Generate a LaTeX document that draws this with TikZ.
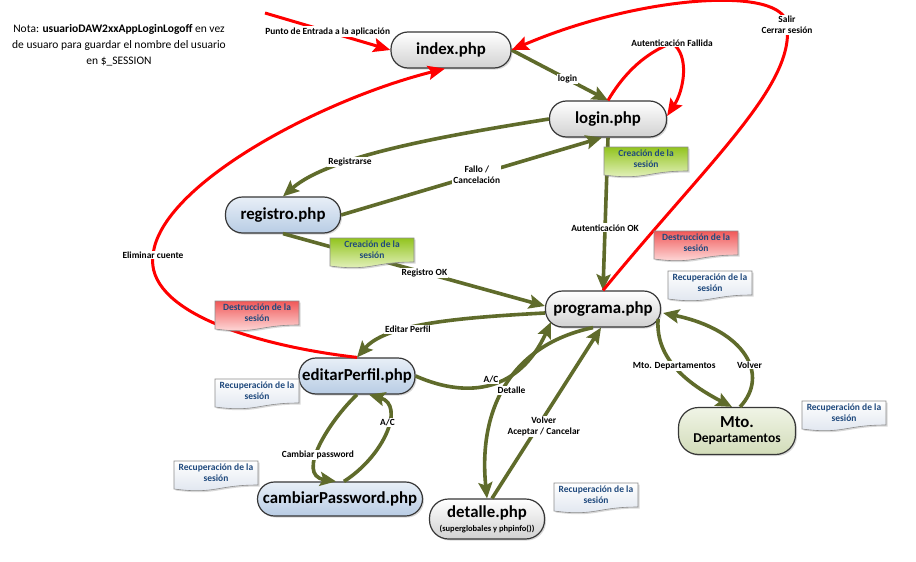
\documentclass[tikz,border=0pt]{standalone}
\usepackage{fontspec}
\setmainfont{Carlito}
\usetikzlibrary{arrows.meta,calc,shadows}

\definecolor{olv}{RGB}{95,107,43}
\definecolor{arrred}{RGB}{255,0,0}
\definecolor{notetxt}{RGB}{31,73,125}
\definecolor{pgborder}{RGB}{55,55,55}

% Office-style "document" note: flat top, wavy bottom
\newcommand\docnote[4]{%
  \begin{scope}[shift={#2}]
    \path[notebox,#3] (-42,-15) -- (42,-15) -- (42,9)
      .. controls (0,9) and (0,18.5) .. (-42,13) -- cycle;
    \node[notetext] (#1) at (0,-3.5) {#4};
  \end{scope}}

\begin{document}
\begin{tikzpicture}[x=1pt,y=-1pt,
  pg/.style={draw=pgborder, line width=1.2pt, rounded corners=17pt,
    minimum height=36pt, inner sep=2pt, align=center,
    font=\bfseries\fontsize{16.8}{18}\selectfont,
    top color=white, bottom color=black!18,
    drop shadow={shadow xshift=1.5pt,shadow yshift=-1.5pt,opacity=0.3}},
  bluepg/.style={pg, top color={rgb,255:red,232;green,239;blue,247},
    bottom color={rgb,255:red,184;green,204;blue,228}},
  greenpg/.style={pg, top color={rgb,255:red,240;green,244;blue,230},
    bottom color={rgb,255:red,210;green,220;blue,185}},
  garr/.style={draw=olv, line width=3.6pt,
    -{Stealth[length=16pt,width=14pt,inset=3pt]}},
  rarr/.style={draw=arrred, line width=3pt,
    -{Stealth[length=17pt,width=14pt,inset=3pt]}},
  lbl/.style={font=\bfseries\fontsize{9.4}{11}\selectfont, fill=white,
    inner sep=1pt, align=center, text=black},
  notebox/.style={draw=black!45, line width=0.6pt,
    drop shadow={shadow xshift=1.5pt,shadow yshift=-1.5pt,opacity=0.3}},
  notegreen/.style={top color={rgb,255:red,146;green,196;blue,30},
    bottom color={rgb,255:red,236;green,246;blue,206}},
  notered/.style={top color={rgb,255:red,240;green,88;blue,88},
    bottom color={rgb,255:red,255;green,232;blue,232}},
  notewhite/.style={top color=white,
    bottom color={rgb,255:red,222;green,228;blue,238}},
  notetext/.style={font=\bfseries\fontsize{9.5}{11.5}\selectfont,
    text=notetxt, align=center, inner sep=0pt},
]
\useasboundingbox (0,0) rectangle (916,562);
\fill[white] (0,0) rectangle (916,562);

% explanatory note
\node[font=\fontsize{11.5}{16}\selectfont, align=center] (nota) at (119,45)
  {Nota: \textbf{usuarioDAW2xxAppLoginLogoff} en vez\\
   de usuaro para guardar el nombre del usuario\\
   en \$\_SESSION};

% pages
\node[pg, minimum width=120pt] (index) at (451,50) {index.php};
\node[pg, minimum width=117pt] (login) at (608,119) {login.php};
\node[bluepg, minimum width=115pt] (registro) at (283,215) {registro.php};
\node[pg, minimum width=115pt] (programa) at (603,309) {programa.php};
\node[bluepg, minimum width=116pt] (editarPerfil) at (357,376) {editarPerfil.php};
\node[bluepg, minimum width=165pt, minimum height=34pt] (cambiarPassword) at (340,499) {cambiarPassword.php};
\node[pg, minimum width=115pt, minimum height=40pt, rounded corners=19pt] (detalle) at (487,519)
  {detalle.php\\[-4pt]\fontsize{8.5}{9}\selectfont (superglobales y phpinfo())};
\node[greenpg, minimum width=117pt, minimum height=47pt, rounded corners=20pt] (mto) at (737,431)
  {Mto.\\[-3pt]\fontsize{13.5}{15}\selectfont Departamentos};

% normal navigation
\draw[garr] (index.east) -- (login.north) node[lbl,pos=0.58]{login};
\draw[garr] (login.west) .. controls (450,135) and (330,155) .. (registro.north)
  node[lbl,pos=0.67]{Registrarse};
\draw[garr] (registro.east) -- ($(login.south)+(-6,0)$)
  node[lbl,pos=0.52]{Fallo /\\Cancelación};
\draw[garr] (login.south) -- (programa.north) node[lbl,pos=0.59]{Autenticación OK};
\draw[garr] (registro.south) -- ($(programa.west)+(0,-3)$) node[lbl,pos=0.54]{Registro OK};
\draw[garr] ($(programa.west)+(0,4)$) .. controls (450,318) and (385,325) .. (editarPerfil.north)
  node[lbl,pos=0.6]{Editar Perfil};
\draw[garr] ($(programa.south)+(-10,0)$) .. controls (510,345) and (478,410) .. (detalle.north)
  node[lbl,pos=0.5,xshift=6pt,yshift=-4pt]{Detalle};
\draw[garr] (editarPerfil.east) .. controls (470,400) and (520,390) .. ($(programa.center)+(-52,13)$)
  node[lbl,pos=0.5,xshift=-1pt,yshift=4pt]{A/C};
\draw[garr] ($(detalle.north)+(5,0)$) -- ($(programa.south)+(-2,0)$)
  node[lbl,pos=0.42,xshift=6pt]{Volver\\Aceptar / Cancelar};
\draw[garr] (editarPerfil.south) .. controls (330,420) and (295,475) .. ($(cambiarPassword.north)+(-4,0)$)
  node[lbl,pos=0.6]{Cambiar password};
\draw[garr] ($(cambiarPassword.north)+(4,0)$) .. controls (385,455) and (405,405) .. ($(editarPerfil.south)+(12,0)$)
  node[lbl,pos=0.6]{A/C};
\draw[garr] ($(programa.east)+(-3,10)$) .. controls (655,360) and (690,385) .. ($(mto.north)+(-5,0)$)
  node[lbl,pos=0.45]{Mto. Departamentos};
\draw[garr] ($(mto.north)+(3,0)$) .. controls (770,375) and (745,330) .. ($(programa.east)+(2,4)$)
  node[lbl,pos=0.4]{Volver};

% entry, logout, failures and account deletion
\coordinate (entry) at (265,13);
\draw[rarr] (entry) -- (index.west) node[lbl,pos=0.5]{Punto de Entrada a la aplicación};
\draw[rarr] (programa.north) .. controls (710,160) and (795,85) .. (787,25)
  node[lbl]{Salir\\Cerrar sesión}
  .. controls (785,-15) and (640,-5) .. (index.east);
\draw[rarr] (editarPerfil.north) .. controls (250,345) and (145,310) .. (153,255)
  node[lbl]{Eliminar cuente}
  .. controls (160,185) and (320,100) .. ($(index.south)+(-6,0)$);
\draw[rarr] (login.north) .. controls (620,80) and (640,55) .. (672,43)
  node[lbl]{Autenticación Fallida}
  .. controls (690,55) and (684,90) .. ($(login.east)+(0,-3)$);

% session notes
\docnote{creaLogin}{(646,162)}{notegreen}{Creación de la\\sesión}
\docnote{creaRegistro}{(372,253)}{notegreen}{Creación de la\\sesión}
\docnote{destPrograma}{(696,246)}{notered}{Destrucción de la\\sesión}
\docnote{destEditar}{(257,316)}{notered}{Destrucción de la\\sesión}
\docnote{recPrograma}{(710,286)}{notewhite}{Recuperación de la\\sesión}
\docnote{recEditar}{(257,394)}{notewhite}{Recuperación de la\\sesión}
\docnote{recCambiar}{(216,476)}{notewhite}{Recuperación de la\\sesión}
\docnote{recDetalle}{(596,498)}{notewhite}{Recuperación de la\\sesión}
\docnote{recMto}{(844,416)}{notewhite}{Recuperación de la\\sesión}
\end{tikzpicture}
\end{document}
